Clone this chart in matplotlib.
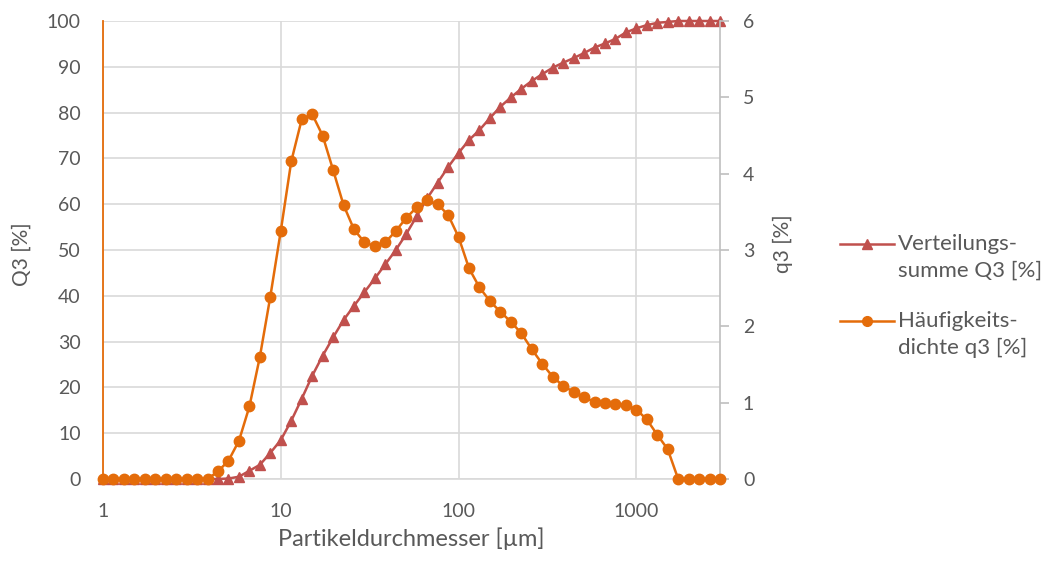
import matplotlib
matplotlib.use("Agg")
import matplotlib.pyplot as plt
from matplotlib.lines import Line2D
from matplotlib.ticker import FixedLocator, FixedFormatter, NullLocator

plt.rcParams['font.family'] = ['Lato', 'DejaVu Sans']

# particle size classes [µm]
diameters = [1.000, 1.145, 1.311, 1.501, 1.719, 1.968, 2.254, 2.581, 2.955, 3.384,
             3.875, 4.437, 5.080, 5.817, 6.661, 7.627, 8.733, 10.00, 11.45, 13.11,
             15.01, 17.19, 19.68, 22.54, 25.81, 29.55, 33.84, 38.75, 44.37, 50.80,
             58.17, 66.61, 76.27, 87.33, 100.0, 114.5, 131.1, 150.1, 171.9, 196.8,
             225.4, 258.1, 295.5, 338.4, 387.5, 443.7, 508.0, 581.7, 666.1, 762.7,
             873.3, 1000.0, 1145.0, 1311.0, 1501.0, 1719.0, 1968.0, 2254.0, 2581.0, 2955.0]

# cumulative distribution Q3 [%] (left axis)
Q3 = [0, 0, 0, 0, 0, 0, 0, 0, 0, 0,
      0, 0.0, 0.1, 0.5, 1.8, 3.1, 5.7, 8.5, 12.7, 17.5,
      22.5, 26.9, 30.9, 34.7, 37.8, 40.8, 43.8, 46.9, 50.0, 53.5,
      57.4, 61.3, 64.7, 68.1, 71.2, 74.0, 76.2, 78.8, 81.3, 83.3,
      85.2, 86.9, 88.4, 89.8, 90.9, 91.9, 93.0, 94.2, 95.1, 96.1,
      97.5, 98.4, 99.1, 99.6, 99.8, 100, 100, 100, 100, 100]

# density distribution q3 [%] (right axis)
q3 = [0, 0, 0, 0, 0, 0, 0, 0, 0, 0,
      0, 0.10, 0.24, 0.50, 0.95, 1.60, 2.39, 3.25, 4.16, 4.71,
      4.78, 4.50, 4.05, 3.59, 3.27, 3.10, 3.05, 3.10, 3.25, 3.42,
      3.56, 3.65, 3.60, 3.46, 3.17, 2.76, 2.51, 2.33, 2.19, 2.06,
      1.91, 1.70, 1.51, 1.34, 1.22, 1.14, 1.07, 1.01, 1.00, 0.98,
      0.97, 0.91, 0.78, 0.58, 0.39, 0, 0, 0, 0, 0]

x_ticks = [1, 10, 100, 1000]
x_tick_labels = ['1', '10', '100', '1000']
left_ticks = [0, 10, 20, 30, 40, 50, 60, 70, 80, 90, 100]
right_ticks = [0, 1, 2, 3, 4, 5, 6]

RED = '#C0504D'
ORANGE = '#E46C0A'
GRID = '#D9D9D9'
TEXT = '#595959'
FS = 14

W, H = 1045, 563
fig = plt.figure(figsize=(W / 100, H / 100), dpi=100)
ax = fig.add_axes([103 / W, 1 - 479 / H, (720 - 103) / W, (479 - 21) / H])
ax2 = ax.twinx()

ax.set_xscale('log')
ax.set_xlim(diameters[0], diameters[-1])
ax.set_ylim(0, 100)
ax2.set_ylim(0, 6)

ax.plot(diameters, Q3, color=RED, lw=1.8, marker='^', ms=7.5, mec=RED, mfc=RED,
        zorder=3, clip_on=False)
ax2.plot(diameters, q3, color=ORANGE, lw=1.8, marker='o', ms=7.5, mec=ORANGE, mfc=ORANGE,
         zorder=3, clip_on=False)

# grid
ax.set_axisbelow(True)
ax.yaxis.set_major_locator(FixedLocator(left_ticks))
ax.xaxis.set_major_locator(FixedLocator(x_ticks))
ax.xaxis.set_major_formatter(FixedFormatter(x_tick_labels))
ax.xaxis.set_minor_locator(NullLocator())
ax.grid(True, which='major', color=GRID, lw=1.2)
ax2.yaxis.set_major_locator(FixedLocator(right_ticks))

for a in (ax, ax2):
    a.spines['top'].set_visible(False)
ax.spines['left'].set_color(ORANGE)
ax.spines['left'].set_linewidth(1.3)
ax2.spines['left'].set_visible(False)
ax.spines['right'].set_visible(False)
ax2.spines['right'].set_color('#BFBFBF')
ax2.spines['right'].set_linewidth(1.2)
ax.spines['bottom'].set_color(GRID)
ax.spines['bottom'].set_linewidth(1.2)
ax2.spines['bottom'].set_visible(False)

ax.tick_params(axis='y', length=0, pad=16, labelsize=FS, labelcolor=TEXT)
ax.tick_params(axis='x', length=0, pad=17, labelsize=FS, labelcolor=TEXT)
ax2.tick_params(axis='y', length=6.5, width=1.2, color='#BFBFBF', direction='out',
                pad=10, labelsize=FS, labelcolor=TEXT)

# axis titles
fig.text(22 / W, 1 - 254 / H, 'Q3 [%]', rotation=90, ha='center', va='center',
         fontsize=FS + 1, color=TEXT)
fig.text(783 / W, 1 - 244 / H, 'q3 [%]', rotation=90, ha='center', va='center',
         fontsize=FS + 1, color=TEXT)
fig.text(411 / W, 1 - 546 / H, 'Partikeldurchmesser [µm]', ha='center', va='baseline',
         fontsize=17, color=TEXT)

# legend (manual)
entries = [
    (RED, '^', 244, ['Verteilungs-', 'summe Q3 [%]'], [250, 277]),
    (ORANGE, 'o', 321, ['Häufigkeits-', 'dichte q3 [%]'], [327, 354]),
]
for color, mk, yl, lines, baselines in entries:
    fig.add_artist(Line2D([840 / W, 894 / W], [1 - yl / H, 1 - yl / H],
                          color=color, lw=1.8, transform=fig.transFigure))
    fig.add_artist(Line2D([867 / W], [1 - yl / H], color=color, marker=mk, ms=7,
                          transform=fig.transFigure))
    for t, b in zip(lines, baselines):
        fig.text(898 / W, 1 - b / H, t, ha='left', va='baseline', fontsize=16,
                 color=TEXT)

fig.savefig('out.png', dpi=100)
